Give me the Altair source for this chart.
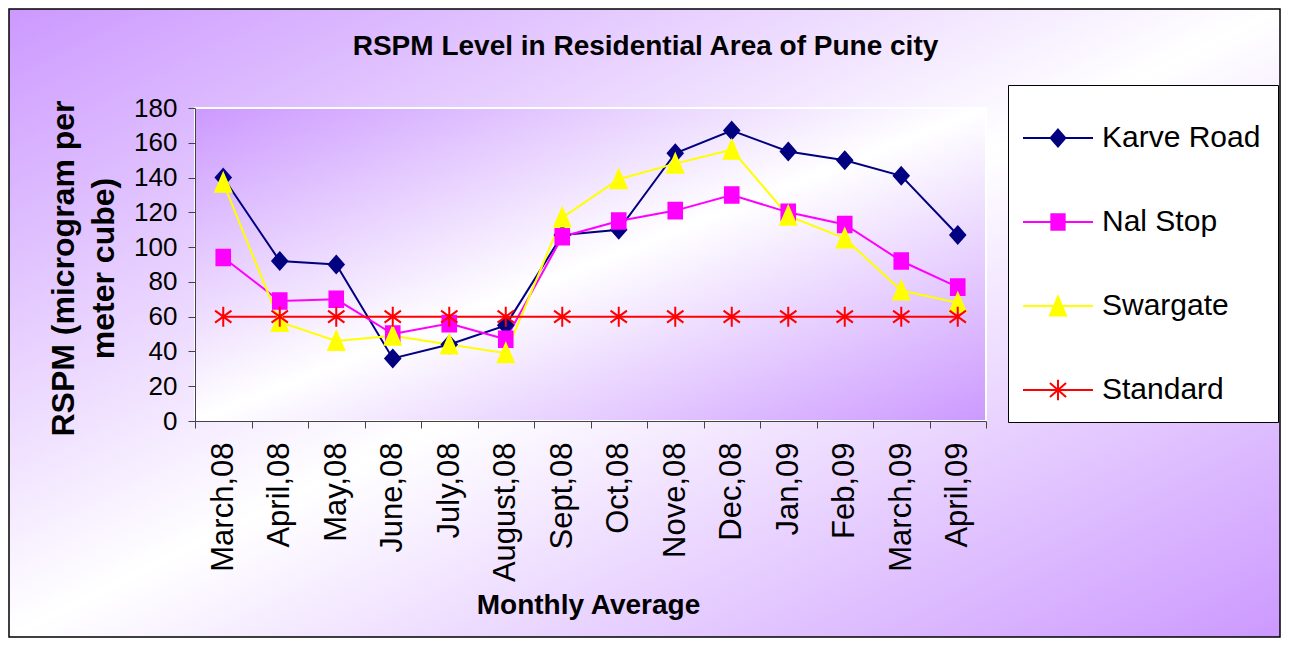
import altair as alt
import pandas as pd

# ---------------- data ----------------
months = ["March,08", "April,08", "May,08", "June,08", "July,08", "August,08",
          "Sept,08", "Oct,08", "Nove,08", "Dec,08", "Jan,09", "Feb,09",
          "March,09", "April,09"]
series_names = ["Karve Road", "Nal Stop", "Swargate", "Standard"]
karve_road = [140, 92, 90, 36, 44, 55, 107, 110, 154, 167, 155, 150, 141, 107]
nal_stop = [94, 69, 70, 50, 56, 47, 106, 115, 121, 130, 120, 113, 92, 77]
swargate = [137, 57, 46, 49, 44, 39, 117, 139, 148, 156, 118, 105, 75, 68]
standard = [60, 60, 60, 60, 60, 60, 60, 60, 60, 60, 60, 60, 60, 60]
y_ticks = [0, 20, 40, 60, 80, 100, 120, 140, 160, 180]

# ---------------- styles ----------------
series_colors = ["#000080", "#FF00FF", "#FFFF00", "#FF0000"]
plot_shapes = [
    "M0,-0.85L0.75,0L0,0.85L-0.75,0Z",
    "M-0.68,-0.78H0.68V0.78H-0.68Z",
    "M0,-0.95L0.8,0.9L-0.8,0.9Z",
    "M0,-1V1M-0.82,-0.6L0.82,0.6M-0.82,0.6L0.82,-0.6",
]
legend_shapes = [
    "M-1,0H1M0,-0.24L0.21,0L0,0.24L-0.21,0Z",
    "M-1,0H1M-0.19,-0.22H0.19V0.22H-0.19Z",
    "M-1,0H1M0,-0.27L0.23,0.27L-0.23,0.27Z",
    "M-1,0H1M0,-0.29V0.29M-0.23,-0.2L0.23,0.2M-0.23,0.2L0.23,-0.2",
]
PURPLE = "#CC99FF"
W, H = 791, 313
PAD_L, PAD_T, TOTAL_W, TOTAL_H = 187, 100, 1273, 630
SANS = "Liberation Sans, Arial, sans-serif"

rows = []
for name, vals in zip(series_names, [karve_road, nal_stop, swargate, standard]):
    for m, v in zip(months, vals):
        rows.append({"month": m, "series": name, "value": v})
df = pd.DataFrame(rows)


def grad():
    return alt.LinearGradient(
        gradient="linear", x1=0, y1=0, x2=1, y2=1,
        stops=[alt.GradientStop(color=PURPLE, offset=0),
               alt.GradientStop(color="#FFFFFF", offset=0.5),
               alt.GradientStop(color=PURPLE, offset=1)])


one_row = "datum.month == 'March,08' && datum.series == 'Karve Road'"

outer_bg = alt.Chart(df).mark_rect(fill=grad(), stroke="black", strokeWidth=1.5).encode(
    x=alt.value(-PAD_L + 1), x2=alt.value(TOTAL_W - PAD_L - 1),
    y=alt.value(-PAD_T + 1), y2=alt.value(TOTAL_H - PAD_T - 1)).transform_filter(one_row)

plot_bg = alt.Chart(df).mark_rect(fill=grad(), stroke="white", strokeWidth=2).encode(
    x=alt.value(0), x2=alt.value(W), y=alt.value(0), y2=alt.value(H)).transform_filter(one_row)

names_js = "[" + ",".join("'%s'" % s for s in series_names) + "]"
shape_expr = "[" + ",".join("'%s'" % s for s in legend_shapes) + "][indexof(" + names_js + ", datum.value)]"
fill_expr = "[" + ",".join("'%s'" % c for c in series_colors) + "][indexof(" + names_js + ", datum.value)]"

x_axis = alt.Axis(title="Monthly Average", labelAngle=-90, labelFont=SANS, labelFontSize=31,
                  labelColor="black", labelPadding=14, tickSize=7, tickBand="extent",
                  labelOverlap=False,
                  domainColor="#444444", tickColor="#444444", zindex=1,
                  titleFont=SANS, titleFontSize=28, titleFontWeight="bold", titleColor="black",
                  titleBaseline="alphabetic", titleY=192, titleX=393)
y_axis = alt.Axis(title=["RSPM (microgram per", "meter cube)"], values=y_ticks, tickCount=10,
                  labelFont=SANS, labelFontSize=26, labelColor="black", labelPadding=11,
                  labelOverlap=False,
                  tickSize=7, domainColor="#444444", tickColor="#444444", grid=False, zindex=1,
                  titleFont=SANS, titleFontSize=32, titleFontWeight="bold", titleColor="black",
                  titleAngle=270, titleBaseline="alphabetic", titleAlign="center",
                  titleLineHeight=40, titleX=-122, titleY=160)


def x_enc():
    return alt.X("month:N", sort=months,
                 scale=alt.Scale(domain=months, paddingInner=0, paddingOuter=0), axis=x_axis)


def y_enc():
    return alt.Y("value:Q", scale=alt.Scale(domain=[0, 180], nice=False, zero=True), axis=y_axis)


lines = alt.Chart(df).mark_line(strokeWidth=2).encode(
    x=x_enc(), y=y_enc(),
    color=alt.Color("series:N", sort=series_names,
                    scale=alt.Scale(domain=series_names, range=series_colors),
                    legend=alt.Legend(title=None, orient="none", legendX=813, legendY=-23,
                                      fillColor="white", strokeColor="black",
                                      padding=17, symbolOffset=-3, labelOffset=8, rowPadding=33,
                                      symbolSize=4900, labelFont=SANS, labelFontSize=30,
                                      labelColor="black", labelLimit=400,
                                      symbolType={"expr": shape_expr},
                                      symbolFillColor={"expr": fill_expr},
                                      symbolStrokeWidth=2, symbolOpacity=1)),
)

marker_layers = []
for name, shp, col in zip(series_names, plot_shapes, series_colors):
    marker_layers.append(
        alt.Chart(df).transform_filter(alt.datum.series == name)
        .mark_point(shape=shp, filled=True, fill=col, stroke=col, size=400, strokeWidth=2, opacity=1)
        .encode(x=x_enc(), y=y_enc())
    )

chart = alt.layer(outer_bg, plot_bg, lines, *marker_layers).properties(
    width=W, height=H,
    autosize=alt.AutoSizeParams(type="none"),
    padding={"left": PAD_L, "top": PAD_T, "right": TOTAL_W - PAD_L - W, "bottom": TOTAL_H - PAD_T - H},
    title=alt.TitleParams("RSPM Level in Residential Area of Pune city", font=SANS, fontSize=28,
                          fontWeight="bold", color="black", anchor="middle", dx=55, offset=0, dy=75,
                          baseline="alphabetic"),
    background="white",
).configure_view(stroke=None)

chart.save("out.html", embed_options={"renderer": "svg", "actions": False})
